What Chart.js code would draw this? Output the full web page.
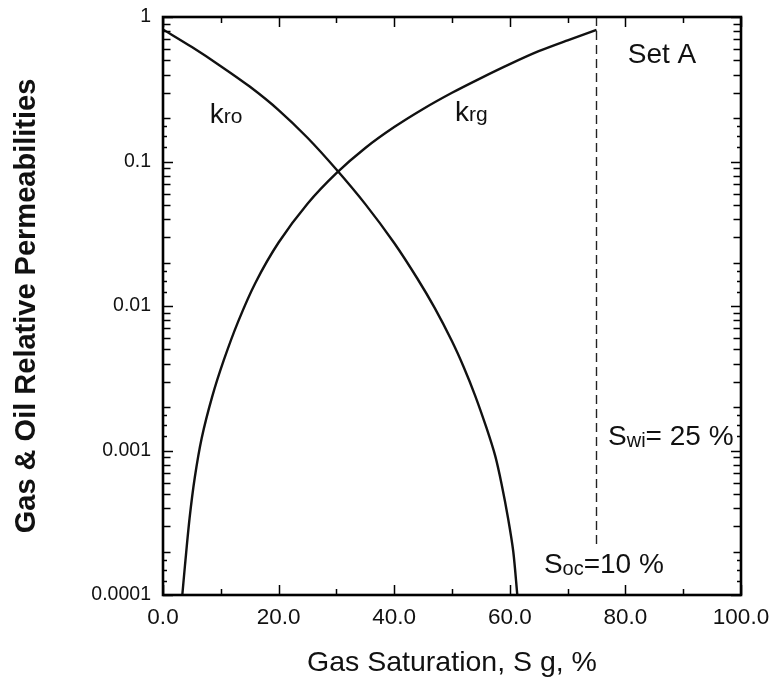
<!DOCTYPE html>
<html><head><meta charset="utf-8">
<script src="https://cdn.jsdelivr.net/npm/chart.js@4.4.0/dist/chart.umd.min.js"></script>
<style>html,body{margin:0;padding:0;background:#fff}#wrap{width:775px;height:681px;position:relative}</style>
</head><body><div id="wrap"><canvas id="c"></canvas></div>
<script>
// Oil relative permeability vs gas saturation
const sgOil = [0, 5, 10, 15, 20, 25, 30, 35, 40, 44, 47, 50, 52, 54, 56, 57.5, 58.6, 59.7, 60.6, 61.3];
const kro   = [0.82, 0.619, 0.457, 0.33, 0.227, 0.146, 0.088, 0.0507, 0.0273, 0.0155, 0.0097, 0.0057, 0.0038, 0.0024, 0.00142, 0.00091, 0.00058, 0.00034, 0.0002, 0.0001];
// Gas relative permeability vs gas saturation
const sgGas = [3.34, 3.8, 4.6, 5.5, 6.7, 8.5, 10.5, 13, 16, 20, 25, 30, 35, 40, 45, 50, 55, 60, 65, 70, 75];
const krg   = [0.0001, 0.00016, 0.00034, 0.00065, 0.00122, 0.00235, 0.0042, 0.0078, 0.0145, 0.0275, 0.051, 0.083, 0.124, 0.173, 0.231, 0.299, 0.378, 0.472, 0.58, 0.69, 0.813];
// Dashed end line (Swi)
const swiLineSg = [75, 75];
const swiLineK  = [1, 0.00022];
// Ticks
const xTickValues = [0, 20, 40, 60, 80, 100];
const xTickLabels = ['0.0', '20.0', '40.0', '60.0', '80.0', '100.0'];
const yTickValues = [0.0001, 0.001, 0.01, 0.1, 1];
const yTickLabels = ['0.0001', '0.001', '0.01', '0.1', '1'];
const yMinorMult = [2, 3, 4, 5, 6, 7, 8, 9];
const ySubMinorMult = [1.25, 1.5, 1.75];
// Text annotations (anchored in data units)
const notes = [
  {x: 8.1,  y: 0.185,   parts: [['k', 28, 0], ['ro', 21, 0]]},
  {x: 50.5, y: 0.19,    parts: [['k', 28, 0], ['rg', 21, 0]]},
  {x: 80.4, y: 0.48,    parts: [['Set A', 28, 0]]},
  {x: 77.0, y: 0.00109, parts: [['S', 28, 0], ['wi', 20, 2], ['= 25 %', 28, 0]]},
  {x: 65.9, y: 0.000142,parts: [['S', 28, 0], ['oc', 20, 2], ['=10 %', 28, 0]]}
];

const FONT = "'Liberation Sans', Arial, Helvetica, sans-serif";

const frame = {
  id: 'frame',
  afterDatasetsDraw(chart) {
    const {ctx, chartArea: a, scales: {x, y}} = chart;
    ctx.save();
    ctx.strokeStyle = '#000';
    ctx.lineWidth = 1.5;
    ctx.beginPath();
    const xt = [];
    xTickValues.forEach((v, i) => {
      xt.push([v, 10]);
      if (i < xTickValues.length - 1) xt.push([(v + xTickValues[i + 1]) / 2, 6]);
    });
    xt.forEach(([v, len]) => {
      const px = Math.round(x.getPixelForValue(v)) + 0.5;
      ctx.moveTo(px, a.bottom); ctx.lineTo(px, a.bottom - len);
      ctx.moveTo(px, a.top); ctx.lineTo(px, a.top + len);
    });
    const yt = [];
    yTickValues.forEach((d, i) => {
      yt.push([d, 10]);
      if (i < yTickValues.length - 1) {
        yMinorMult.forEach(m => yt.push([d * m, 7.5]));
        ySubMinorMult.forEach(m => yt.push([d * m, 4]));
      }
    });
    yt.forEach(([v, len]) => {
      const py = Math.round(y.getPixelForValue(v)) + 0.5;
      ctx.moveTo(a.left, py); ctx.lineTo(a.left + len, py);
      ctx.moveTo(a.right, py); ctx.lineTo(a.right - len, py);
    });
    ctx.stroke();
    ctx.lineWidth = 2.6;
    ctx.strokeRect(a.left, a.top, a.right - a.left, a.bottom - a.top);
    ctx.fillStyle = '#111';
    ctx.textBaseline = 'alphabetic';
    ctx.textAlign = 'left';
    notes.forEach(n => {
      let px = x.getPixelForValue(n.x);
      const py = y.getPixelForValue(n.y);
      n.parts.forEach(([t, size, dy]) => {
        ctx.font = size + 'px ' + FONT;
        ctx.fillText(t, px, py + dy);
        px += ctx.measureText(t).width;
      });
    });
    ctx.restore();
  }
};

const lineDs = (label, xs, ys, extra) => Object.assign({
  label,
  data: xs.map((v, i) => ({x: v, y: ys[i]})),
  showLine: true,
  borderColor: '#111',
  borderWidth: 2.4,
  pointRadius: 0,
  fill: false
}, extra);

new Chart(document.getElementById('c'), {
  type: 'scatter',
  data: {
    datasets: [
      lineDs('kro', sgOil, kro, {tension: 0.3}),
      lineDs('krg', sgGas, krg, {tension: 0.3}),
      lineDs('Swi', swiLineSg, swiLineK, {borderWidth: 1.4, borderDash: [9, 5], borderColor: '#222'})
    ]
  },
  options: {
    responsive: true,
    maintainAspectRatio: false,
    animation: false,
    devicePixelRatio: 1,
    layout: {padding: {top: 17, right: 34, left: 0, bottom: 0}},
    plugins: {legend: {display: false}, tooltip: {enabled: false}},
    scales: {
      x: {
        type: 'linear', min: 0, max: 100,
        grid: {display: false, drawTicks: false},
        border: {display: false},
        afterBuildTicks: s => { s.ticks = xTickValues.map(v => ({value: v})); },
        ticks: {
          autoSkip: false, maxRotation: 0, padding: 9, color: '#111',
          font: {family: FONT, size: 22.5},
          callback: (v, i) => xTickLabels[i]
        },
        title: {display: true, text: 'Gas Saturation, S g, %', color: '#111',
                font: {family: FONT, size: 28.5}, padding: {top: 0, bottom: 1}},
        afterFit: s => { s.height = 86; s.paddingLeft = 0; s.paddingRight = 0; }
      },
      y: {
        type: 'logarithmic', min: 0.0001, max: 1,
        grid: {display: false, drawTicks: false},
        border: {display: false},
        afterBuildTicks: s => { s.ticks = yTickValues.map(v => ({value: v})); },
        ticks: {
          autoSkip: false, padding: 12, color: '#111',
          font: {family: FONT, size: 19.5},
          callback: (v, i) => yTickLabels[i]
        },
        title: {display: true, text: 'Gas & Oil Relative Permeabilities', color: '#111',
                font: {family: FONT, size: 29, weight: 'bold'}, padding: {top: 10, bottom: 0}},
        afterFit: s => { s.width = 163; s.paddingTop = 0; s.paddingBottom = 0; }
      }
    }
  },
  plugins: [frame]
});
</script>
</body></html>
